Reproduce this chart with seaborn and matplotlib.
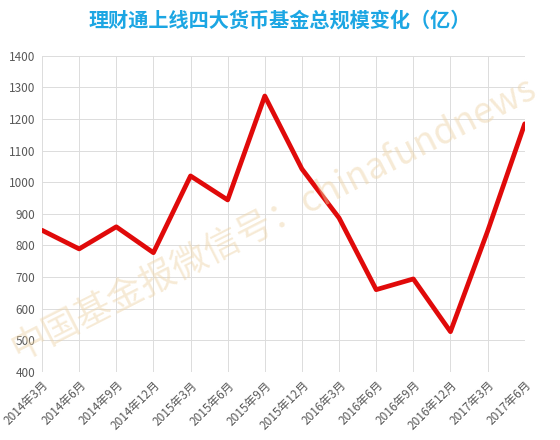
import pandas as pd
import numpy as np
import seaborn as sns
import matplotlib.pyplot as plt

quarters = ['2014年3月', '2014年6月', '2014年9月', '2014年12月', '2015年3月', '2015年6月',
            '2015年9月', '2015年12月', '2016年3月', '2016年6月', '2016年9月', '2016年12月',
            '2017年3月', '2017年6月']
scale = [848, 789, 859, 777, 1020, 944, 1273, 1042, 887, 660, 694, 527, 845, 1185]
title = '理财通上线四大货币基金总规模变化（亿）'
watermark = '中国基金报微信号：chinafundnews'

sns.set_style('white')
plt.rcParams['font.family'] = ['Noto Sans CJK SC', 'DejaVu Sans']

df = pd.DataFrame({'季度': quarters, '规模': scale})
df['pos'] = np.arange(len(df))

fig = plt.figure(figsize=(5.6, 4.4), dpi=100)
ax = fig.add_axes([0.075, 0.155, 0.862, 0.718])

sns.lineplot(data=df, x='pos', y='规模', color='#e00a0a', linewidth=3.4, ax=ax)

ax.set_xlim(0, len(quarters) - 1)
ax.set_ylim(400, 1400)
ax.set_yticks(range(400, 1401, 100))
ax.set_xticks(df['pos'])
ax.set_xticklabels(quarters, rotation=45, ha='right', rotation_mode='anchor')
ax.tick_params(axis='both', colors='#595959', labelsize=8.5, length=0, pad=5)
ax.grid(True, color='#dcdcdc', linewidth=0.7)
ax.set_axisbelow(True)
for s in ax.spines.values():
    s.set_visible(False)
ax.set_xlabel('')
ax.set_ylabel('')

fig.text(0.5, 0.955, title, ha='center', va='center', fontsize=14.5,
         fontweight='bold', color='#1ca6e3')

fig.text(0.01, 0.165, watermark, fontsize=26, color='#edd2a4', alpha=0.45,
         rotation=27, ha='left', va='bottom')

fig.savefig('out.png', dpi=100)
